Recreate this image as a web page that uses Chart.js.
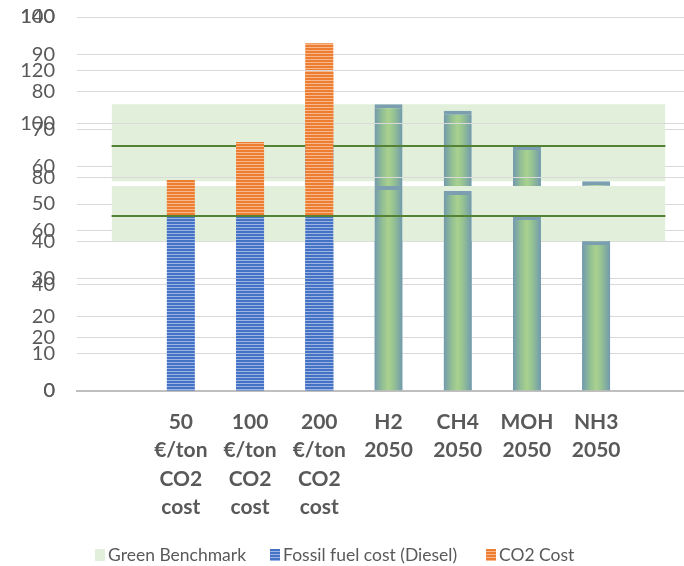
<!DOCTYPE html>
<html>
<head>
<meta charset="utf-8">
<script src="https://cdn.jsdelivr.net/npm/chart.js@4"></script>
<style>
  html, body { margin: 0; padding: 0; background: #fff; overflow: hidden; }
  #wrap { position: relative; width: 684px; height: 566px; overflow: hidden; }
  #wrap canvas { position: absolute; left: 0; top: 0; }
  #legend { position: absolute; left: 0; top: 544px; width: 684px; height: 22px;
            font: 17.5px Lato, sans-serif; color: #595959; }
  .item { position: absolute; top: 0; display: flex; align-items: center; white-space: nowrap; line-height: 21.6px; }
  .swatch { width: 10px; height: 12px; margin-right: 3px; }
</style>
</head>
<body>
<div id="wrap">
  <canvas id="back" width="700" height="530"></canvas>
  <canvas id="front" width="700" height="530"></canvas>
  <div id="legend"></div>
</div>
<script>
// Cost cases along the x axis
const categories = [
  ['50', '€/ton', 'CO2', 'cost'],
  ['100', '€/ton', 'CO2', 'cost'],
  ['200', '€/ton', 'CO2', 'cost'],
  ['H2', '2050'],
  ['CH4', '2050'],
  ['MOH', '2050'],
  ['NH3', '2050']
];

// Diesel cost plus CO2 price for the three CO2 cases
const fossilCost = [65.5, 65.5, 65.5];
const co2Cost = [13.5, 27.7, 54.0];

// Green fuels in 2050: H2, CH4, MOH, NH3
const greenFuelCost = [76.7, 74.9, 65.5, 56.1];

// Green benchmark band and its reference line
const benchmarkLow = [56.1];
const benchmarkHigh = [76.7];
const benchmarkLine = [65.5];

// Rear layer (0–100 scale): fuel bar shown only for the 200 €/ton case
const backFossilCost = [null, null, 65.5];
const backCo2Cost = [null, null, 27.5];

// Value axes of the two layers
const backTicks = { max: 100, step: 10 };
const frontTicks = { max: 140, step: 20 };

const legendLabels = ['Green Benchmark', 'Fossil fuel cost (Diesel)', 'CO2 Cost'];

// ---- helpers -------------------------------------------------------------
const SLOTS = categories.length + 2;            // one empty slot at each end
const labels = ['', ...categories, ''];
const fuelSlots = v => [null, ...v, ...Array(SLOTS - 1 - v.length).fill(null)];
const greenSlots = v => [null, null, null, null, ...v, null];
const flat = v => Array(SLOTS).fill(v[0]);
const BAR_PCT = 0.405;
const TEXT = '#595959';

function stripes(ctx, dark, light) {
  const c = document.createElement('canvas');
  c.width = 4; c.height = 3;
  const g = c.getContext('2d');
  g.fillStyle = dark;  g.fillRect(0, 0, 4, 2);
  g.fillStyle = light; g.fillRect(0, 2, 4, 1);
  return ctx.createPattern(c, 'repeat');
}

// Green bars: bluish edges fading into a light green centre
function greenFill(ctx) {
  const chart = ctx.chart, area = chart.chartArea;
  if (!area || ctx.type !== 'data') return '#A9D18E';
  const xs = chart.scales.x;
  const cx = xs.getPixelForValue(ctx.dataIndex);
  const half = (xs.getPixelForValue(1) - xs.getPixelForValue(0)) * BAR_PCT / 2;
  const g = chart.ctx.createLinearGradient(cx - half, 0, cx + half, 0);
  g.addColorStop(0, '#7199AE');
  g.addColorStop(0.3, '#94C193');
  g.addColorStop(0.5, '#A9D18E');
  g.addColorStop(0.7, '#94C193');
  g.addColorStop(1, '#7199AE');
  return g;
}

function buildChart(canvas, axis, fossil, co2, showLabels) {
  const ctx = canvas.getContext('2d');
  const blue = stripes(ctx, '#4472C4', '#9DB4E3');
  const orange = stripes(ctx, '#ED7D31', '#F6B88C');
  return new Chart(canvas, {
    data: {
      labels,
      datasets: [
        { type: 'line', data: flat(benchmarkLine), borderColor: '#548235', borderWidth: 2,
          pointRadius: 0, fill: false, stack: 'line', order: 0 },
        { type: 'bar', label: legendLabels[1], data: fuelSlots(fossil), backgroundColor: blue,
          borderWidth: 0, stack: 'fuel', order: 1 },
        { type: 'bar', label: legendLabels[2], data: fuelSlots(co2), backgroundColor: orange,
          borderWidth: 0, stack: 'fuel', order: 1 },
        { type: 'bar', data: greenSlots(greenFuelCost), backgroundColor: greenFill,
          borderColor: '#7B9EB1', borderWidth: { top: 4, left: 0, right: 0, bottom: 0 },
          borderSkipped: 'start', stack: 'fuel', order: 1 },
        { type: 'line', data: flat(benchmarkLow), borderWidth: 0, pointRadius: 0,
          fill: false, stack: 'low', order: 2 },
        { type: 'line', label: legendLabels[0], data: flat(benchmarkHigh), borderWidth: 0,
          pointRadius: 0, fill: '-1', backgroundColor: '#E2EFDA', stack: 'high', order: 2 }
      ]
    },
    options: {
      responsive: false,
      animation: false,
      layout: { padding: { top: 17, left: 0, right: 0, bottom: 0 } },
      datasets: { bar: { barPercentage: BAR_PCT, categoryPercentage: 1 } },
      plugins: { legend: { display: false }, tooltip: { enabled: false } },
      scales: {
        x: {
          type: 'category', offset: true, stacked: true,
          grid: { display: false, drawTicks: false },
          border: { display: true, color: '#BFBFBF', width: 2 },
          ticks: {
            autoSkip: false, maxRotation: 0, padding: 17,
            color: showLabels ? TEXT : 'rgba(0,0,0,0)',
            font: { family: 'Lato', size: 21, weight: 'bold', lineHeight: 1.35 }
          },
          afterFit(s) { s.height = 139; s.paddingLeft = 0; s.paddingRight = 0; }
        },
        y: {
          stacked: true, min: 0, max: axis.max,
          grid: { color: '#D9D9D9', lineWidth: 1, drawTicks: false },
          border: { display: false },
          ticks: { stepSize: axis.step, padding: 22, color: TEXT,
                   font: { family: 'Lato', size: 20 } },
          afterFit(s) { s.width = 77; s.paddingTop = 0; s.paddingBottom = 0; }
        }
      }
    }
  });
}

buildChart(document.getElementById('back'), backTicks, backFossilCost, backCo2Cost, false);
buildChart(document.getElementById('front'), frontTicks, fossilCost, co2Cost, true);

// Legend
const legend = document.getElementById('legend');
const swatches = [
  '#E2EFDA',
  'repeating-linear-gradient(to bottom, #4472C4 0 2px, #9DB4E3 2px 3px)',
  'repeating-linear-gradient(to bottom, #ED7D31 0 2px, #F6B88C 2px 3px)'
];
const legendLeft = [95, 270, 486];
legendLabels.forEach((text, i) => {
  const item = document.createElement('div');
  item.className = 'item';
  item.style.left = legendLeft[i] + 'px';
  const sw = document.createElement('span');
  sw.className = 'swatch';
  sw.style.background = swatches[i];
  const t = document.createElement('span');
  t.textContent = text;
  item.appendChild(sw);
  item.appendChild(t);
  legend.appendChild(item);
});
</script>
</body>
</html>
